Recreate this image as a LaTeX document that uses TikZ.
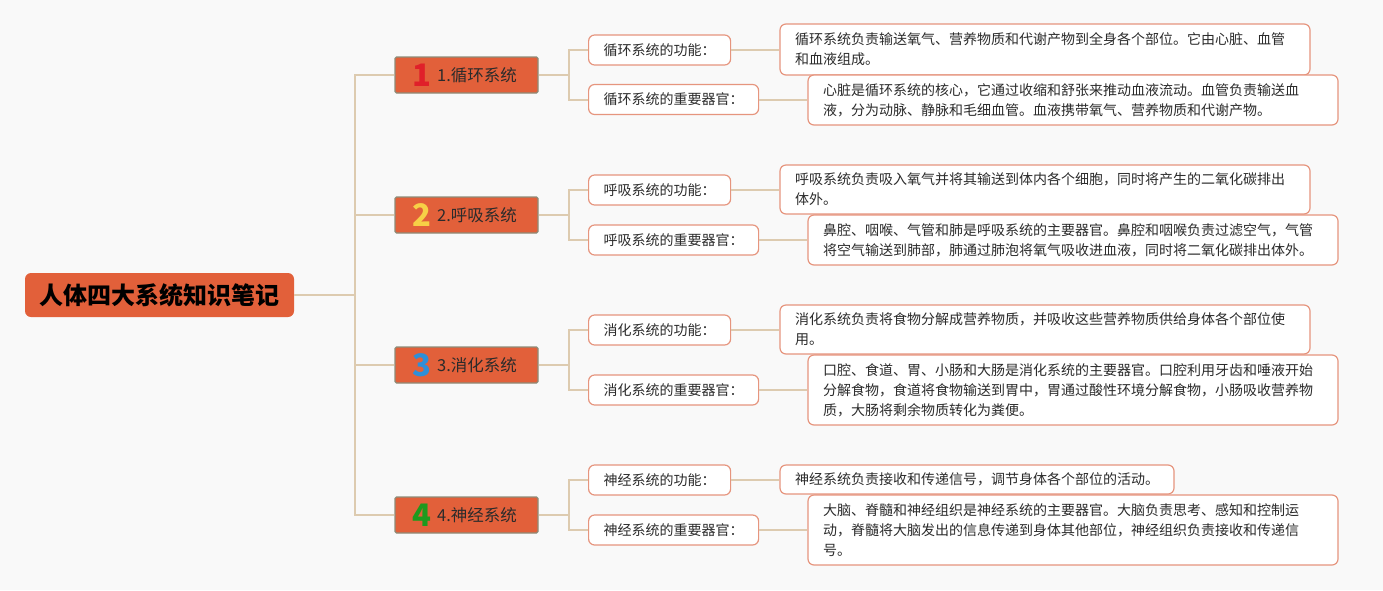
\documentclass[tikz,border=0pt]{standalone}
\usepackage{fontspec}
\setmainfont{Noto Sans CJK SC}
\definecolor{bgc}{HTML}{F9F9F9}
\definecolor{orangefill}{HTML}{E2603A}
\definecolor{l1border}{HTML}{8E8C78}
\definecolor{salmon}{HTML}{E6957E}
\definecolor{conncol}{HTML}{DDCBB0}
\definecolor{txt}{HTML}{2B2B2B}
\definecolor{ired}{HTML}{E0202A}
\definecolor{iyellow}{HTML}{F7D046}
\definecolor{iblue}{HTML}{2E8FD8}
\definecolor{igreen}{HTML}{1E9A1E}
\tikzset{
  conn/.style={draw=conncol, line width=2pt},
  rootbox/.style={fill=orangefill, rounded corners=6pt, minimum width=269pt, minimum height=44pt, inner sep=0pt, text=black, font=\fontsize{24}{28}\selectfont\bfseries},
  l1box/.style={fill=orangefill, draw=l1border, line width=1.2pt, rounded corners=1.5pt, minimum width=143pt, minimum height=36pt, inner sep=0pt},
  l1text/.style={anchor=west, inner sep=0pt, text=txt, font=\fontsize{16.5}{18}\selectfont},
  icon/.style={inner sep=0pt, font=\fontsize{31}{32}\selectfont\bfseries},
  l2box/.style={anchor=west, draw=salmon, fill=white, line width=1.2pt, rounded corners=6pt, inner xsep=15pt, inner ysep=0pt, minimum height=30pt, text=txt, font=\fontsize{14}{20}\selectfont},
  desc/.style={draw=salmon, fill=white, line width=1.2pt, rounded corners=6pt, inner xsep=15pt, inner ysep=0pt, align=left, text width=500pt, text=txt, font=\fontsize{14}{20}\selectfont}
}
\begin{document}
\begin{tikzpicture}[x=1pt,y=-1pt]
\fill[bgc] (0,0) rectangle (1383,590);
\useasboundingbox (0,0) rectangle (1383,590);

% root
\node[rootbox] (root) at (159.5,295) {人体四大系统知识笔记};

% level 1
\node[l1box] (s1) at (466.5,75) {};
\node[l1box] (s2) at (466.5,215) {};
\node[l1box] (s3) at (466.5,365) {};
\node[l1box] (s4) at (466.5,515) {};
\node[icon, text=ired] (i1) at (422,75) {1};
\node[icon, text=iyellow] (i2) at (422,215) {2};
\node[icon, text=iblue] (i3) at (422,365) {3};
\node[icon, text=igreen] (i4) at (422,515) {4};
\node[l1text] (t1) at (437,75) {1.循环系统};
\node[l1text] (t2) at (437,215) {2.呼吸系统};
\node[l1text] (t3) at (437,365) {3.消化系统};
\node[l1text] (t4) at (437,515) {4.神经系统};

% level 2
\node[l2box] (g1f) at (588,50) {循环系统的功能：};
\node[l2box] (g1o) at (588,99.5) {循环系统的重要器官：};
\node[l2box] (g2f) at (588,190) {呼吸系统的功能：};
\node[l2box] (g2o) at (588,240) {呼吸系统的重要器官：};
\node[l2box] (g3f) at (588,330) {消化系统的功能：};
\node[l2box] (g3o) at (588,390) {消化系统的重要器官：};
\node[l2box] (g4f) at (588,480) {神经系统的功能：};
\node[l2box] (g4o) at (588,530) {神经系统的重要器官：};

% level 3
\node[desc, minimum height=51pt] (d1f) at (1045,49.5) {循环系统负责输送氧气、营养物质和代谢产物到全身各个部位。它由心脏、血管\\和血液组成。};
\node[desc, minimum height=50pt] (d1o) at (1073,100) {心脏是循环系统的核心，它通过收缩和舒张来推动血液流动。血管负责输送血\\液，分为动脉、静脉和毛细血管。血液携带氧气、营养物质和代谢产物。};
\node[desc, minimum height=49pt] (d2f) at (1045,189.5) {呼吸系统负责吸入氧气并将其输送到体内各个细胞，同时将产生的二氧化碳排出\\体外。};
\node[desc, minimum height=50pt] (d2o) at (1073,240) {鼻腔、咽喉、气管和肺是呼吸系统的主要器官。鼻腔和咽喉负责过滤空气，气管\\将空气输送到肺部，肺通过肺泡将氧气吸收进血液，同时将二氧化碳排出体外。};
\node[desc, minimum height=49pt] (d3f) at (1045,329.5) {消化系统负责将食物分解成营养物质，并吸收这些营养物质供给身体各个部位使\\用。};
\node[desc, minimum height=70pt] (d3o) at (1073,390) {口腔、食道、胃、小肠和大肠是消化系统的主要器官。口腔利用牙齿和唾液开始\\分解食物，食道将食物输送到胃中，胃通过酸性环境分解食物，小肠吸收营养物\\质，大肠将剩余物质转化为粪便。};
\node[desc, text width=364pt, minimum height=29pt] (d4f) at (977,479.5) {神经系统负责接收和传递信号，调节身体各个部位的活动。};
\node[desc, minimum height=70pt] (d4o) at (1073,530) {大脑、脊髓和神经组织是神经系统的主要器官。大脑负责思考、感知和控制运\\动，脊髓将大脑发出的信息传递到身体其他部位，神经组织负责接收和传递信\\号。};

% connectors root -> level 1
\draw[conn] (root.east) -- (355,295) coordinate (trunk);
\draw[conn] (trunk) |- (s1.west);
\draw[conn] (trunk) |- (s2.west);
\draw[conn] (trunk) |- (s3.west);
\draw[conn] (trunk) |- (s4.west);

% level 1 -> level 2
\foreach \s/\f/\o in {s1/g1f/g1o, s2/g2f/g2o, s3/g3f/g3o, s4/g4f/g4o}{
  \draw[conn] (\s.east) -- ++(30,0) coordinate (b\s);
  \draw[conn] (b\s) |- (\f.west);
  \draw[conn] (b\s) |- (\o.west);
}

% level 2 -> level 3
\foreach \a/\b in {g1f/d1f, g1o/d1o, g2f/d2f, g2o/d2o, g3f/d3f, g3o/d3o, g4f/d4f, g4o/d4o}{
  \draw[conn] (\a.east) -- (\a.east -| \b.west);
}
\end{tikzpicture}
\end{document}
